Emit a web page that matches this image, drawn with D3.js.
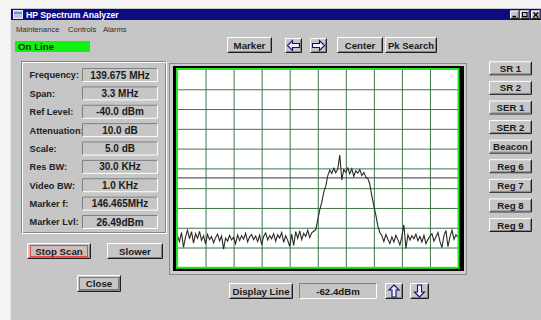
<!DOCTYPE html>
<html>
<head>
<meta charset="utf-8">
<script src="https://cdn.jsdelivr.net/npm/d3@7"></script>
<style>
  html, body { margin: 0; padding: 0; background: #f4f4f4; }
  svg { display: block; }
  text { font-family: "Liberation Sans", Arial, sans-serif; }
</style>
</head>
<body>
<svg id="app" width="541" height="320"></svg>
<script>
// analyzer settings
const centerMHz = 139.675;
const spanMHz = 3.3;
const refLevel = -40;
const dbPerDiv = 5;
const divisions = 10;

// sweep trace, dBm left to right
const traceDbm = [
  -82.0, -83.5, -81.2, -85.0, -82.3, -80.6, -82.8, -81.0, -83.9, -81.5,
  -82.7, -80.9, -83.2, -82.0, -84.1, -81.7, -83.0, -82.2, -83.8, -82.5,
  -81.6, -83.3, -82.1, -85.4, -82.6, -83.4, -81.9, -83.1, -82.4, -84.0,
  -81.8, -83.2, -82.0, -82.9, -81.4, -83.6, -82.3, -81.7, -83.0, -82.1,
  -83.5, -81.9, -84.3, -82.2, -81.3, -83.1, -82.0, -82.8, -81.5, -83.4,
  -81.8, -82.6, -81.2, -83.7, -82.0, -83.2, -84.7, -81.6, -84.5, -81.0,
  -82.7, -80.8, -83.0, -81.4, -82.2, -80.6, -82.5, -81.3, -80.9, -80.5,
  -78.0, -75.5, -73.6, -71.0, -69.5, -66.8, -65.4, -66.3, -65.0, -66.1,
  -65.2, -61.6, -67.9, -65.3, -66.0, -64.9, -66.4, -65.1, -67.0, -65.6,
  -66.2, -65.3, -66.8, -66.0, -67.2, -67.6, -69.0, -72.0, -74.5, -76.8,
  -79.6, -81.2, -82.0, -83.5, -81.7, -82.9, -84.0, -82.3, -83.6, -81.9,
  -83.0, -84.4, -82.1, -79.3, -85.2, -81.8, -83.1, -82.0, -82.8, -81.6,
  -83.3, -82.2, -83.6, -81.9, -84.0, -83.0, -82.1, -81.5, -83.4, -82.3,
  -81.2, -83.5, -85.0, -82.0, -80.7, -84.8, -82.3, -80.6, -82.9, -81.8,
  -82.4
];
const displayLineDbm = -67.4;
const displayLineText = "-62.4dBm";

const menuItems = ["Maintenance", "Controls", "Alarms"];
const readoutLabels = ["Frequency:", "Span:", "Ref Level:", "Attenuation:", "Scale:",
  "Res BW:", "Video BW:", "Marker f:", "Marker Lvl:"];
const readoutValues = ["139.675 MHz", "3.3 MHz", "-40.0 dBm", "10.0 dB", "5.0 dB",
  "30.0 KHz", "1.0 KHz", "146.465MHz", "26.49dBm"];
const presetButtons = ["SR 1", "SR 2", "SER 1", "SER 2", "Beacon", "Reg 6", "Reg 7", "Reg 8", "Reg 9"];

const face = "#c6c6c6";
const svg = d3.select("#app");

function bevel(g, x, y, w, h, sunken) {
  g.append("path")
    .attr("d", `M${x + 0.5},${y + h - 0.5}V${y + 0.5}H${x + w - 0.5}`)
    .attr("fill", "none").attr("stroke", sunken ? "#808080" : "#ffffff");
  g.append("path")
    .attr("d", `M${x + 0.5},${y + h - 0.5}H${x + w - 0.5}V${y + 0.5}`)
    .attr("fill", "none").attr("stroke", sunken ? "#ffffff" : "#1e1e1e");
  if (!sunken) {
    g.append("path")
      .attr("d", `M${x + 1.5},${y + h - 1.5}H${x + w - 1.5}V${y + 1.5}`)
      .attr("fill", "none").attr("stroke", "#858585");
  }
}

function button(x, y, w, h, label, size) {
  const g = svg.append("g").attr("class", "button");
  g.append("rect").attr("x", x).attr("y", y).attr("width", w).attr("height", h).attr("fill", face);
  bevel(g, x, y, w, h, false);
  if (label) {
    g.append("text")
      .attr("x", x + w / 2).attr("y", y + h / 2 + 3.5)
      .attr("text-anchor", "middle")
      .attr("font-size", size || 9.7).attr("font-weight", "bold").attr("fill", "#1a1a1a")
      .text(label);
  }
  return g;
}

function field(x, y, w, h, label, size) {
  const g = svg.append("g").attr("class", "field");
  g.append("rect").attr("x", x).attr("y", y).attr("width", w).attr("height", h).attr("fill", face);
  bevel(g, x, y, w, h, true);
  g.append("text")
    .attr("x", x + w / 2).attr("y", y + h / 2 + 3.6)
    .attr("text-anchor", "middle")
    .attr("font-size", size || 10).attr("font-weight", "bold").attr("fill", "#1a1a1a")
    .text(label);
  return g;
}

function arrowButton(x, y, w, h, angle) {
  const g = button(x, y, w, h, null);
  const pts = [[-6, 0], [-1, -5], [-1, -2], [6, -2], [6, 2], [-1, 2], [-1, 5]];
  g.append("polygon")
    .attr("points", pts.map(p => p.join(",")).join(" "))
    .attr("transform", `translate(${x + w / 2},${y + h / 2}) rotate(${angle})`)
    .attr("fill", "#eef0ff").attr("stroke", "#101070").attr("stroke-width", 1.1);
}

// window body
svg.append("rect").attr("x", 10).attr("y", 8).attr("width", 531).attr("height", 312).attr("fill", face);
svg.append("line").attr("x1", 10.5).attr("x2", 10.5).attr("y1", 8).attr("y2", 320).attr("stroke", "#e6e6e6");

// title bar
svg.append("rect").attr("x", 11).attr("y", 9).attr("width", 530).attr("height", 11).attr("fill", "#0c0c80");
svg.append("rect").attr("x", 13.5).attr("y", 10.5).attr("width", 9).attr("height", 8)
  .attr("fill", "#b8c4e0").attr("stroke", "#e8ecf8");
svg.append("line").attr("x1", 14).attr("x2", 22).attr("y1", 13).attr("y2", 13).attr("stroke", "#4a5a90");
svg.append("text").attr("x", 26).attr("y", 18.2)
  .attr("font-size", 8.7).attr("font-weight", "bold").attr("fill", "#ffffff")
  .text("HP Spectrum Analyzer");
[510, 520, 531].forEach((bx, i) => {
  const g = button(bx, 10.5, 9.5, 8.5, null);
  if (i === 0) g.append("line").attr("x1", bx + 2.5).attr("x2", bx + 6).attr("y1", 16.5).attr("y2", 16.5).attr("stroke", "#000").attr("stroke-width", 1.4);
  if (i === 1) g.append("rect").attr("x", bx + 2.5).attr("y", 12.5).attr("width", 4.5).attr("height", 4).attr("fill", "none").attr("stroke", "#000");
  if (i === 2) g.append("path").attr("d", `M${bx + 2.5},12.5L${bx + 7},17M${bx + 7},12.5L${bx + 2.5},17`).attr("stroke", "#000").attr("stroke-width", 1.2);
});

// menu
const menuX = [16, 68, 103];
svg.selectAll("text.menu").data(menuItems).join("text")
  .attr("class", "menu")
  .attr("x", (d, i) => menuX[i]).attr("y", 31.5)
  .attr("font-size", 7.6).attr("fill", "#2a2a2a")
  .text(d => d);

// status
svg.append("rect").attr("x", 15).attr("y", 41).attr("width", 75).attr("height", 11).attr("fill", "#12f212");
svg.append("text").attr("x", 18).attr("y", 50)
  .attr("font-size", 9.7).attr("font-weight", "bold").attr("fill", "#143014")
  .text("On Line");

// top toolbar
button(227, 37, 45, 16, "Marker");
arrowButton(285, 38, 17, 15, 0);
arrowButton(310, 38, 17, 15, 180);
button(337, 37, 46, 16, "Center");
button(385, 37, 52, 16, "Pk Search", 9.5);

// readout group box
svg.append("rect").attr("x", 21.5).attr("y", 61.5).attr("width", 144).attr("height", 171)
  .attr("fill", "none").attr("stroke", "#858585");
svg.append("rect").attr("x", 22.5).attr("y", 62.5).attr("width", 144).attr("height", 171)
  .attr("fill", "none").attr("stroke", "#ffffff");

const rowY = d3.scaleLinear().domain([0, readoutLabels.length - 1]).range([75, 222]);
svg.selectAll("text.label").data(readoutLabels).join("text")
  .attr("class", "label")
  .attr("x", 29.5).attr("y", (d, i) => rowY(i) + 3.4)
  .attr("font-size", 9.2).attr("font-weight", "bold").attr("fill", "#222")
  .text(d => d);
readoutValues.forEach((v, i) => field(82, rowY(i) - 7, 76, 14, v));

// scan buttons
const stop = button(27, 243, 64, 16, "Stop Scan");
stop.append("rect").attr("x", 30.5).attr("y", 245.5).attr("width", 57).attr("height", 11)
  .attr("fill", "#e6a8a8").attr("fill-opacity", 0.35).attr("stroke", "#e04848");
stop.select("text").raise();
button(107, 243, 56, 16, "Slower");
const close = button(77, 275, 44, 17, "Close");
close.append("rect").attr("x", 79.5).attr("y", 277.5).attr("width", 39).attr("height", 12)
  .attr("fill", "none").attr("stroke", "#333").attr("stroke-dasharray", "1,1");

// preset buttons
const presetY = d3.scaleLinear().domain([0, presetButtons.length - 1]).range([68.3, 225]);
presetButtons.forEach((p, i) => button(489, presetY(i) - 7, 43, 14, p));

// display line controls
button(229, 283, 64, 16, "Display Line");
field(299, 283, 78, 16, displayLineText, 9.7);
arrowButton(385, 283, 18, 16, 90);
arrowButton(410, 283, 19, 16, -90);

// spectrum display frame
svg.append("rect").attr("x", 169.5).attr("y", 63.5).attr("width", 297).attr("height", 211)
  .attr("fill", "#cdcdcd").attr("stroke", "#8a8a8a");
svg.append("rect").attr("x", 173).attr("y", 66).attr("width", 291).attr("height", 205).attr("fill", "#000");

const x = d3.scaleLinear()
  .domain([centerMHz - spanMHz / 2, centerMHz + spanMHz / 2])
  .range([177.5, 458]);
const y = d3.scaleLinear()
  .domain([refLevel - dbPerDiv * divisions, refLevel])
  .range([267.3, 69.5]);

svg.append("rect")
  .attr("x", x.range()[0]).attr("y", y.range()[1])
  .attr("width", x.range()[1] - x.range()[0]).attr("height", y.range()[0] - y.range()[1])
  .attr("fill", "#ffffff");

const grid = svg.append("g").attr("class", "grid");
grid.append("g")
  .attr("transform", `translate(0,${y.range()[0]})`)
  .call(d3.axisBottom(x).tickValues(d3.range(1, divisions).map(i => x.domain()[0] + i * spanMHz / divisions))
    .tickSize(-(y.range()[0] - y.range()[1])).tickFormat(""))
  .call(g => g.select(".domain").remove());
grid.append("g")
  .attr("transform", `translate(${x.range()[0]},0)`)
  .call(d3.axisLeft(y).tickValues(d3.range(1, divisions).map(i => refLevel - i * dbPerDiv))
    .tickSize(-(x.range()[1] - x.range()[0])).tickFormat(""))
  .call(g => g.select(".domain").remove());
grid.selectAll(".tick line").attr("stroke", "#3d7448").attr("stroke-width", 1);

svg.append("line")
  .attr("x1", x.range()[0]).attr("x2", x.range()[1])
  .attr("y1", y(displayLineDbm)).attr("y2", y(displayLineDbm))
  .attr("stroke", "#5e5e5e").attr("stroke-width", 1.4);

const freqs = traceDbm.map((d, i) => x.domain()[0] + i * spanMHz / (traceDbm.length - 1));
svg.append("path")
  .datum(traceDbm)
  .attr("fill", "none")
  .attr("stroke", "#2a2a2a")
  .attr("stroke-width", 1.1)
  .attr("d", d3.line()
    .x((d, i) => x(freqs[i]))
    .y(d => y(d)));

svg.append("rect")
  .attr("x", x.range()[0] - 0.5).attr("y", y.range()[1] - 0.5)
  .attr("width", x.range()[1] - x.range()[0] + 1).attr("height", y.range()[0] - y.range()[1] + 1)
  .attr("fill", "none").attr("stroke", "#22e822").attr("stroke-width", 2);
</script>
</body>
</html>
